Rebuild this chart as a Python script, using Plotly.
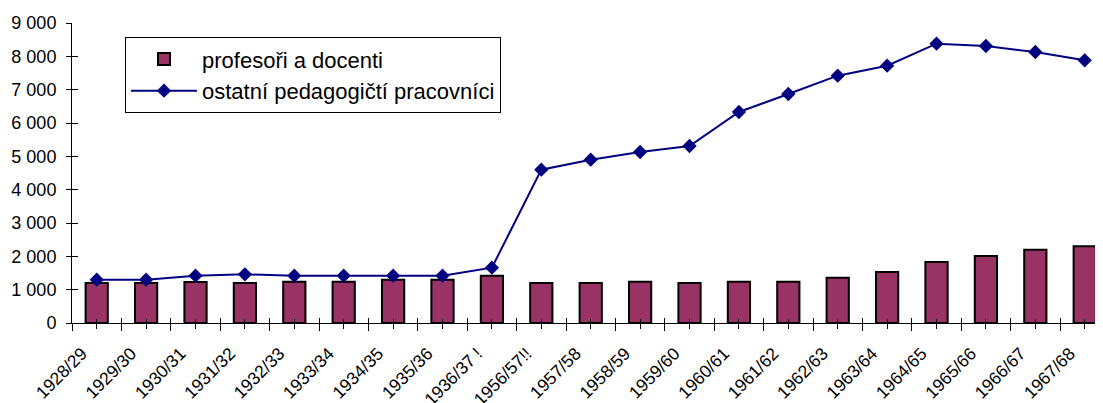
import plotly.graph_objects as go

categories = ["1928/29", "1929/30", "1930/31", "1931/32", "1932/33", "1933/34",
              "1934/35", "1935/36", "1936/37 !", "1956/57!!", "1957/58", "1958/59",
              "1959/60", "1960/61", "1961/62", "1962/63", "1963/64", "1964/65",
              "1965/66", "1966/67", "1967/68"]
profesori = [1200, 1200, 1230, 1200, 1240, 1240, 1300, 1300, 1420, 1200, 1200,
             1240, 1200, 1240, 1240, 1360, 1530, 1830, 2010, 2200, 2300]
ostatni = [1300, 1300, 1420, 1460, 1420, 1420, 1420, 1420, 1660, 4600, 4900,
           5130, 5310, 6330, 6870, 7420, 7720, 8380, 8310, 8130, 7880]
y_ticks = list(range(0, 9001, 1000))

FONT = "Liberation Sans, Arial, sans-serif"
n = len(categories)
xrange_ = [-0.5, 20.37]
centers = list(range(n))
bounds = [i - 0.5 for i in range(n + 1)]
label_pos = [i - 0.3 for i in range(n)]

fig = go.Figure()
fig.add_trace(go.Bar(
    x=categories, y=profesori, name="profesoři a docenti",
    marker=dict(color="#993366", line=dict(color="black", width=2)),
    width=0.45,
))
fig.add_trace(go.Scatter(
    x=categories, y=ostatni, name="ostatní pedagogičtí pracovníci",
    mode="lines+markers",
    line=dict(color="#000080", width=2),
    marker=dict(symbol="diamond", size=11, color="#000080"),
))
# empty helper traces so that the tick-only overlay axes are drawn
for xa, ya in (("x2", "y"), ("x3", "y"), ("x4", "y"), ("x5", "y"), ("x", "y2")):
    fig.add_trace(go.Scatter(x=[], y=[], xaxis=xa, yaxis=ya, showlegend=False,
                             hoverinfo="skip"))

common_x = dict(range=xrange_, showgrid=False, zeroline=False, showline=False,
                showticklabels=False, overlaying="x", anchor="y", automargin=False,
                tickcolor="black", tickwidth=1, type="linear", fixedrange=True)

fig.update_layout(
    width=1095, height=395,
    margin=dict(l=64, r=0, t=15, b=80),
    paper_bgcolor="white", plot_bgcolor="white",
    separators=", ",
    font=dict(family=FONT, size=18, color="black"),
    showlegend=True,
    legend=dict(
        x=(125 - 72) / 1031, y=(322.7 - 37) / 300, xanchor="left", yanchor="top",
        bgcolor="white", bordercolor="black", borderwidth=1,
        font=dict(family=FONT, size=22, color="black"),
        itemwidth=66, tracegroupgap=0,
    ),
    xaxis=dict(
        type="category", categoryorder="array", categoryarray=categories,
        range=xrange_, ticks="outside", ticklen=5, showticklabels=False,
        tickcolor="black", tickwidth=1, automargin=False,
        showline=True, linecolor="black", linewidth=1,
        showgrid=False, zeroline=False,
    ),
    xaxis2=dict(common_x, tickmode="array", tickvals=centers, ticks="inside", ticklen=4),
    xaxis3=dict(common_x, tickmode="array", tickvals=bounds, ticks="outside", ticklen=7),
    xaxis4=dict(common_x, tickmode="array", tickvals=bounds, ticks="inside", ticklen=5),
    xaxis5=dict(common_x, tickmode="array", tickvals=label_pos, ticktext=categories,
                showticklabels=True, ticks="", tickangle=-45, ticklabelstandoff=16,
                tickfont=dict(family=FONT, size=17.5, color="black")),
    yaxis=dict(
        range=[0, 9000], tickmode="array", tickvals=y_ticks, tickformat=",d",
        ticks="outside", ticklen=5, tickcolor="black", tickwidth=1,
        showline=True, linecolor="black", linewidth=1, automargin=False,
        showgrid=False, zeroline=False, ticklabelstandoff=6,
        tickfont=dict(family=FONT, size=18, color="black"),
    ),
    yaxis2=dict(
        range=[0, 9000], tickmode="array", tickvals=y_ticks, overlaying="y",
        anchor="x", side="left", ticks="inside", ticklen=6, tickcolor="black",
        showticklabels=False, showline=False, showgrid=False, zeroline=False,
        automargin=False,
    ),
)

fig.write_html("out.html")
